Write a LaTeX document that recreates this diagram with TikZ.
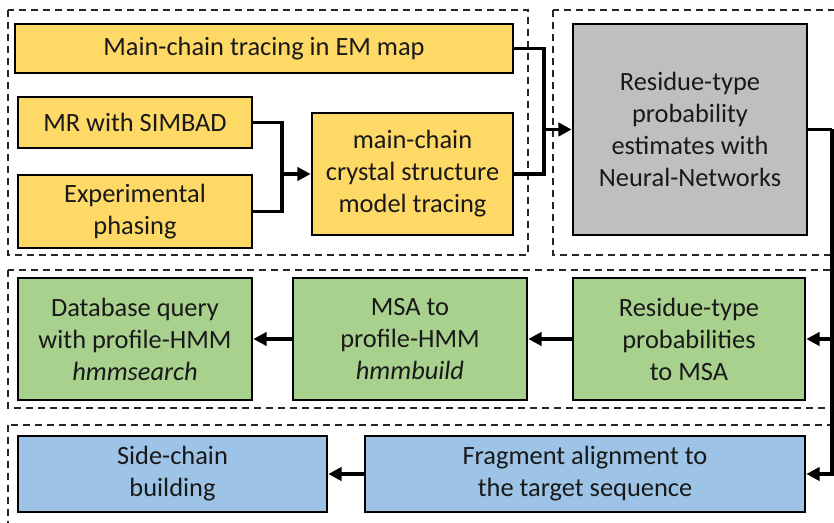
\documentclass[tikz,border=0pt]{standalone}
\usepackage{fontspec}
\setmainfont{Carlito}
\usetikzlibrary{arrows.meta}
\definecolor{stepyellow}{RGB}{255,217,102}
\definecolor{stepgrey}{RGB}{191,191,191}
\definecolor{stepgreen}{RGB}{169,209,142}
\definecolor{stepblue}{RGB}{157,195,230}
\tikzset{
  stagebox/.style={draw=black, line width=2pt, align=center, inner sep=0pt,
    font=\fontsize{19.8}{24}\selectfont, text=black!90},
  frame/.style={draw=black!85, dashed, line width=0.9pt, dash pattern=on 5.5pt off 3.5pt},
  link/.style={line width=2.6pt, draw=black},
  arr/.style={link, -{Triangle[length=10pt,width=10pt]}}
}
\begin{document}
\begin{tikzpicture}[x=0.75pt,y=0.75pt,yscale=-1,xscale=1]
\clip (0,0) rectangle (834,523);
\useasboundingbox (0,0) rectangle (834,523);
% dashed stage frames
\draw [frame] (8,10) rectangle (528,255);
\draw [frame] (553,10) rectangle (845,255);
\draw [frame] (8,270) rectangle (845,408);
\draw [frame] (8,425) rectangle (845,535);
% stage 1: tracing
\node (emtrace) at (264,48.5) [stagebox, fill=stepyellow, minimum width=373.5pt, minimum height=36.75pt] {Main-chain tracing in EM map};
\node (simbad) at (135,122.5) [stagebox, fill=stepyellow, minimum width=175.5pt, minimum height=38.25pt] {MR with SIMBAD};
\node (expphase) at (135,211.5) [stagebox, fill=stepyellow, minimum width=175.5pt, minimum height=54.75pt] {Experimental\\phasing};
\node (crystal) at (412.5,174) [stagebox, fill=stepyellow, minimum width=150.75pt, minimum height=91.5pt] {main-chain\\crystal structure\\model tracing};
\node (nn) at (690,129.5) [stagebox, fill=stepgrey, minimum width=175.5pt, minimum height=158.25pt] {Residue-type\\probability\\estimates with\\Neural-Networks};
% stage 2: sequence search
\node (resmsa) at (689,339) [stagebox, fill=stepgreen, minimum width=174pt, minimum height=91.5pt] {Residue-type\\probabilities\\to MSA};
\node (hmmbuild) at (410,339) [stagebox, fill=stepgreen, minimum width=175.5pt, minimum height=91.5pt] {MSA to\\profile-HMM\\\textit{hmmbuild}};
\node (hmmsearch) at (135,339) [stagebox, fill=stepgreen, minimum width=175.5pt, minimum height=91.5pt] {Database query\\with profile-HMM\\\textit{hmmsearch}};
% stage 3: building
\node (fragalign) at (585,474) [stagebox, fill=stepblue, minimum width=330pt, minimum height=57pt] {Fragment alignment to\\the target sequence};
\node (sidechain) at (172.5,474) [stagebox, fill=stepblue, minimum width=231.75pt, minimum height=57pt] {Side-chain\\building};
% junctions
\coordinate (jtop) at (544,129.5);
\coordinate (jmr) at (282,174);
\coordinate (jright) at (832,129.5);
% connectors
\draw [link] (emtrace.east) -| (jtop);
\draw [link] (crystal.east) -| (jtop);
\draw [arr] (jtop) -- (nn.west);
\draw [link] (simbad.east) -| (jmr);
\draw [link] (expphase.east) -| (jmr);
\draw [arr] (jmr) -- (crystal.west);
\draw [link] (nn.east) -- (jright);
\draw [arr] (jright) |- (fragalign.east);
\draw [arr] (jright |- resmsa.east) -- (resmsa.east);
\draw [arr] (resmsa.west) -- (hmmbuild.east);
\draw [arr] (hmmbuild.west) -- (hmmsearch.east);
\draw [arr] (fragalign.west) -- (sidechain.east);
\end{tikzpicture}
\end{document}
